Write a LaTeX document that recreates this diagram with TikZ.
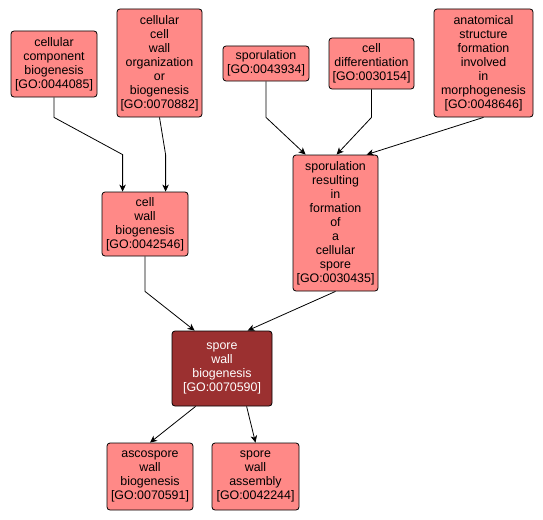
\documentclass[tikz,border=0pt]{standalone}
\usepackage{fontspec}
\setmainfont{Liberation Sans}
\usetikzlibrary{arrows.meta,calc}
\definecolor{golight}{RGB}{255,137,135}
\definecolor{godark}{RGB}{155,48,48}
\tikzset{
  goterm/.style={draw=black, line width=0.8pt, rounded corners=3pt, fill=golight,
    inner sep=0pt, align=center, font=\fontsize{12.4}{14}\selectfont},
  gofocus/.style={goterm, fill=godark, text=white},
  edge/.style={draw=black, line width=0.8pt, -{Stealth[length=7pt,width=6.5pt,inset=2pt]}}
}
\begin{document}
\begin{tikzpicture}[x=1pt,y=-1pt]
\useasboundingbox (0,0) rectangle (543,519);
\node[goterm, minimum width=86pt, minimum height=66pt] (ccb) at (54,64) {cellular\\component\\biogenesis\\{[GO:0044085]}};
\node[goterm, minimum width=85pt, minimum height=108pt] (ccwob) at (159.5,63) {cellular\\cell\\wall\\organization\\or\\biogenesis\\{[GO:0070882]}};
\node[goterm, minimum width=86pt, minimum height=35pt] (spor) at (266,63.5) {sporulation\\{[GO:0043934]}};
\node[goterm, minimum width=85pt, minimum height=51pt] (cdiff) at (371.5,63.5) {cell\\differentiation\\{[GO:0030154]}};
\node[goterm, minimum width=99pt, minimum height=108pt] (anat) at (483.5,63) {anatomical\\structure\\formation\\involved\\in\\morphogenesis\\{[GO:0048646]}};
\node[goterm, minimum width=85pt, minimum height=136pt] (srfcs) at (335.5,223) {sporulation\\resulting\\in\\formation\\of\\a\\cellular\\spore\\{[GO:0030435]}};
\node[goterm, minimum width=86pt, minimum height=64pt] (cwb) at (145,224) {cell\\wall\\biogenesis\\{[GO:0042546]}};
\node[gofocus, minimum width=100pt, minimum height=75pt] (swb) at (222,368.5) {spore\\wall\\biogenesis\\{[GO:0070590]}};
\node[goterm, minimum width=86pt, minimum height=67pt] (asco) at (150,476.5) {ascospore\\wall\\biogenesis\\{[GO:0070591]}};
\node[goterm, minimum width=87pt, minimum height=67pt] (swa) at (255.5,476.5) {spore\\wall\\assembly\\{[GO:0042244]}};
% connectors
\draw[edge] (ccb.south) -- ++(0,20) -- ($(cwb.north west)+(21,-37)$) -- ($(cwb.north west)+(21,0)$);
\draw[edge] (ccwob.south) -- ($(cwb.north west)+(64,-37)$) -- ($(cwb.north west)+(64,0)$);
\draw[edge] (spor.south) -- ++(0,36) -- ($(srfcs.north west)+(13,0)$);
\draw[edge] (cdiff.south) -- ++(0,28) -- ($(srfcs.north west)+(44,0)$);
\draw[edge] (anat.south) -- ($(srfcs.north west)+(74,0)$);
\draw[edge] (cwb.south) -- ++(0,35) -- ($(swb.north west)+(23,0)$);
\draw[edge] (srfcs.south) -- ($(swb.north west)+(76,0)$);
\draw[edge] ($(swb.south west)+(24,0)$) -- (asco.north);
\draw[edge] ($(swb.south west)+(75,0)$) -- (swa.north);
\end{tikzpicture}
\end{document}
